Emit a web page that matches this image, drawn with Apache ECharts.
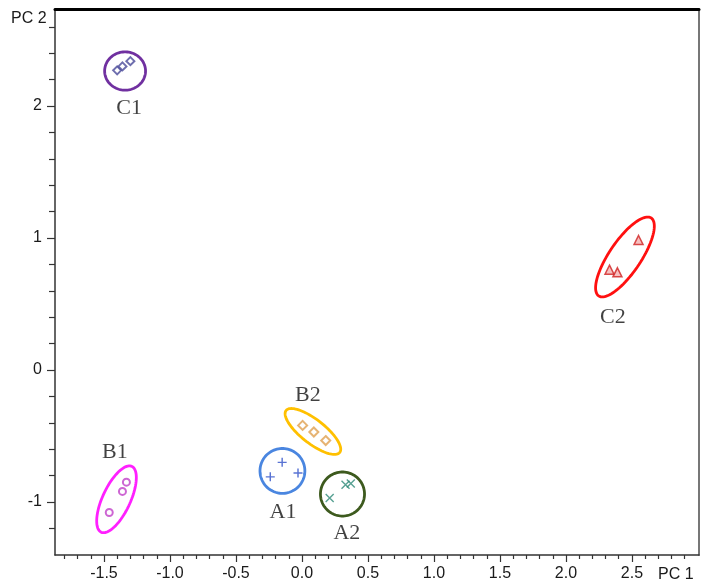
<!DOCTYPE html>
<html>
<head>
<meta charset="utf-8">
<script src="https://cdn.jsdelivr.net/npm/echarts@6/dist/echarts.min.js"></script>
<style>
html,body{margin:0;padding:0;background:#fff;}
#chart{width:706px;height:587px;}
</style>
</head>
<body>
<div id="chart"></div>
<script>
// ---- data (PC1, PC2) ----
const A1 = [[-0.15, -0.70], [-0.24, -0.81], [-0.03, -0.78]];
const A2 = [[0.21, -0.97], [0.33, -0.87], [0.37, -0.86]];
const B1 = [[-1.33, -0.85], [-1.36, -0.92], [-1.46, -1.08]];
const B2 = [[0.005, -0.42], [0.09, -0.47], [0.18, -0.535]];
const C1 = [[-1.40, 2.27], [-1.36, 2.30], [-1.30, 2.34]];
const C2 = [[2.55, 0.985], [2.33, 0.76], [2.39, 0.74]];

// group ellipses: [centerPC1, centerPC2], [semiAxisA, semiAxisB], angleDeg
const groupNames = ['A1', 'A2', 'B1', 'B2', 'C1', 'C2'];
const ellipseCenters = [[-0.148, -0.765], [0.307, -0.94], [-1.405, -0.98], [0.083, -0.466], [-1.34, 2.265], [2.447, 0.856]];
const ellipseAxes = [[0.17, 0.17], [0.167, 0.167], [0.275, 0.105], [0.258, 0.09], [0.155, 0.145], [0.356, 0.12]];
const ellipseAngles = [0, 0, 65, -38, 0, 56];
const labelPositions = [[-0.144, -1.076], [0.34, -1.235], [-1.417, -0.62], [0.045, -0.19], [-1.31, 1.98], [2.356, 0.40]];

// axis ticks
const xMajorTicks = [-1.5, -1.0, -0.5, 0.0, 0.5, 1.0, 1.5, 2.0, 2.5];
const xMinorTicks = [-1.8,-1.7,-1.6,-1.4,-1.3,-1.2,-1.1,-0.9,-0.8,-0.7,-0.6,-0.4,-0.3,-0.2,-0.1,0.1,0.2,0.3,0.4,0.6,0.7,0.8,0.9,1.1,1.2,1.3,1.4,1.6,1.7,1.8,1.9,2.1,2.2,2.3,2.4,2.6,2.7,2.8,2.9];
const yMajorTicks = [-1, 0, 1, 2];
const yMinorTicks = [-1.2, -0.8, -0.6, -0.4, -0.2, 0.2, 0.4, 0.6, 0.8, 1.2, 1.4, 1.6, 1.8, 2.2, 2.4, 2.6];
const xRange = [-1.871, 3.008];
const yRange = [-1.402, 2.735];

// ---- styles ----
const ellipseColors = ['#4a86e0', '#3d5a1e', '#ff20ff', '#ffc000', '#7030a0', '#ff1010'];
const pointStyle = {
  A1: {symbol: 'path://M4.2,0h1.6v10h-1.6z M0,4.2h10v1.6h-10z', size: 9, color: '#3050c8', border: null},
  A2: {symbol: 'path://M0,1.1L1.1,0L10,8.9L8.9,10Z M8.9,0L10,1.1L1.1,10L0,8.9Z', size: 9, color: '#2e8a78', border: null},
  B1: {symbol: 'emptyCircle', size: 7, color: '#c040c8', border: 1.6},
  B2: {symbol: 'emptyDiamond', size: 9, color: '#e0a050', border: 1.6},
  C1: {symbol: 'emptyDiamond', size: 8, color: '#4a4a9a', border: 1.5},
  C2: {symbol: 'triangle', size: 9, color: '#f4b0b0', border: 1.5, borderColor: '#d02020'}
};
const groupData = {A1, A2, B1, B2, C1, C2};

const ellipseData = groupNames.map((n, i) => [ellipseCenters[i][0], ellipseCenters[i][1], ellipseAxes[i][0], ellipseAxes[i][1], ellipseAngles[i], i]);

function renderEllipse(params, api) {
  const cx = api.value(0), cy = api.value(1), a = api.value(2), b = api.value(3);
  const ang = api.value(4) * Math.PI / 180;
  const idx = api.value(5);
  const pts = [];
  const N = 90;
  for (let k = 0; k < N; k++) {
    const t = k / N * 2 * Math.PI;
    const ex = a * Math.cos(t), ey = b * Math.sin(t);
    const x = cx + ex * Math.cos(ang) - ey * Math.sin(ang);
    const y = cy + ex * Math.sin(ang) + ey * Math.cos(ang);
    pts.push(api.coord([x, y]));
  }
  return {
    type: 'polygon',
    shape: {points: pts},
    style: {fill: 'none', stroke: ellipseColors[idx], lineWidth: 2.8}
  };
}

const series = [{
  type: 'custom',
  renderItem: renderEllipse,
  data: ellipseData,
  encode: {x: 0, y: 1},
  silent: true,
  z: 2
}];

groupNames.forEach(n => {
  const st = pointStyle[n];
  series.push({
    type: 'scatter',
    name: n,
    data: groupData[n],
    symbol: st.symbol,
    symbolSize: st.size,
    itemStyle: st.border ? {color: st.color, borderColor: st.borderColor || st.color, borderWidth: st.border} : {color: st.color},
    z: 3
  });
});

series.push({
  type: 'scatter',
  data: groupNames.map((n, i) => [labelPositions[i][0], labelPositions[i][1], n]),
  symbolSize: 1,
  itemStyle: {color: 'rgba(0,0,0,0)'},
  label: {
    show: true,
    position: 'inside',
    formatter: p => p.data[2],
    fontFamily: 'Liberation Serif',
    fontSize: 22,
    color: '#111'
  },
  z: 4
});

const tickFont = {fontFamily: 'Liberation Sans', fontSize: 16, color: '#1a1a1a'};

const option = {
  animation: false,
  backgroundColor: '#fff',
  grid: {left: 55, right: 7, top: 9, bottom: 32, containLabel: false},
  xAxis: [
    {
      type: 'value', min: xRange[0], max: xRange[1], position: 'bottom',
      axisLine: {show: true, onZero: false, lineStyle: {color: '#333', width: 1.5}},
      axisTick: {show: true, customValues: xMajorTicks, length: 7, lineStyle: {color: '#333', width: 1.2}},
      axisLabel: Object.assign({show: true, customValues: xMajorTicks, margin: 11, formatter: v => v.toFixed(1)}, tickFont),
      splitLine: {show: false}
    },
    {
      type: 'value', min: xRange[0], max: xRange[1], position: 'bottom',
      axisLine: {show: false, onZero: false},
      axisTick: {show: true, customValues: xMinorTicks, length: 4, lineStyle: {color: '#333', width: 1.2}},
      axisLabel: {show: false},
      splitLine: {show: false}
    },
    {
      type: 'value', min: xRange[0], max: xRange[1], position: 'top',
      axisLine: {show: true, onZero: false, lineStyle: {color: '#000', width: 3}},
      axisTick: {show: false}, axisLabel: {show: false}, splitLine: {show: false}
    }
  ],
  yAxis: [
    {
      type: 'value', min: yRange[0], max: yRange[1], position: 'left',
      axisLine: {show: true, onZero: false, lineStyle: {color: '#333', width: 1.5}},
      axisTick: {show: true, customValues: yMajorTicks, length: 8, lineStyle: {color: '#333', width: 1.2}},
      axisLabel: Object.assign({show: true, customValues: yMajorTicks, margin: 13, formatter: v => String(v)}, tickFont),
      splitLine: {show: false}
    },
    {
      type: 'value', min: yRange[0], max: yRange[1], position: 'left',
      axisLine: {show: false, onZero: false},
      axisTick: {show: true, customValues: yMinorTicks, length: 6, lineStyle: {color: '#333', width: 1.2}},
      axisLabel: {show: false},
      splitLine: {show: false}
    },
    {
      type: 'value', min: yRange[0], max: yRange[1], position: 'right',
      axisLine: {show: true, onZero: false, lineStyle: {color: '#777', width: 2}},
      axisTick: {show: false}, axisLabel: {show: false}, splitLine: {show: false}
    }
  ],
  graphic: [
    {type: 'text', left: 11, top: 11, style: {text: 'PC 2', fontFamily: 'Liberation Sans', fontSize: 16, fill: '#1a1a1a'}},
    {type: 'text', left: 658, top: 567, style: {text: 'PC 1', fontFamily: 'Liberation Sans', fontSize: 16, fill: '#1a1a1a'}}
  ],
  series: series
};

const chart = echarts.init(document.getElementById('chart'), null, {renderer: 'canvas'});
chart.setOption(option);
</script>
</body>
</html>
